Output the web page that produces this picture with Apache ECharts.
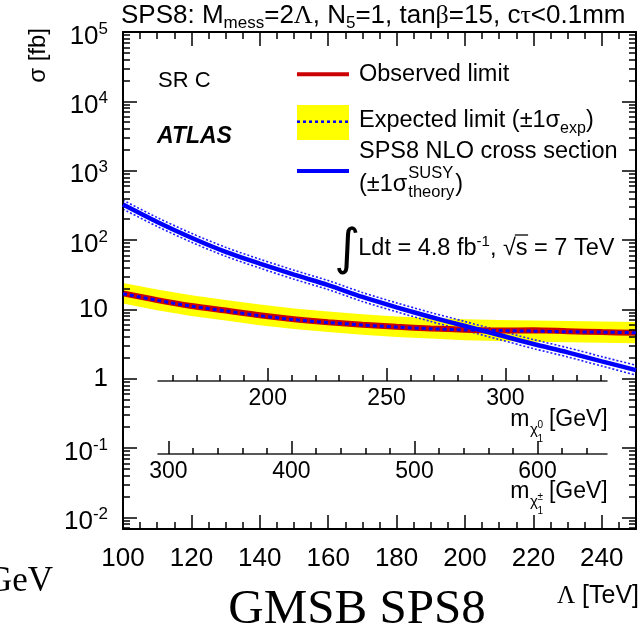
<!DOCTYPE html>
<html>
<head>
<meta charset="utf-8">
<script src="https://cdn.jsdelivr.net/npm/echarts@6/dist/echarts.min.js"></script>
<style>
  html, body { margin: 0; padding: 0; background: #fff; }
  #chart { width: 644px; height: 636px; }
</style>
</head>
<body>
<div id="chart"></div>
<script>
// Λ scan points [TeV]
const lambda = [100, 110, 120, 130, 140, 150, 160, 170, 180, 190, 200, 210, 220, 230, 240, 250];
// observed / expected 95% CL upper limits on σ [fb]
const observed = [17.0, 13.6, 11.2, 9.6, 8.2, 7.2, 6.5, 6.0, 5.6, 5.3, 5.1, 4.95, 5.0, 4.85, 4.7, 4.6];
const expected = [16.8, 13.5, 11.1, 9.5, 8.1, 7.1, 6.45, 5.95, 5.55, 5.25, 5.05, 4.95, 4.85, 4.75, 4.7, 4.6];
const expectedUp = [24.0, 19.3, 16.0, 13.7, 11.8, 10.3, 9.3, 8.5, 7.9, 7.5, 7.2, 7.0, 6.9, 6.8, 6.7, 6.6];
const expectedDown = [12.2, 9.7, 8.0, 6.9, 5.9, 5.2, 4.7, 4.3, 4.0, 3.8, 3.6, 3.5, 3.4, 3.35, 3.3, 3.25];
// SPS8 NLO cross section with its ±1σ theory band [fb]
const theory = [324, 182, 108, 67.6, 45.7, 31.6, 22.4, 15.1, 10.7, 7.76, 5.75, 4.27, 3.16, 2.40, 1.78, 1.33];
const theoryUp = [376, 211, 125, 78.4, 53.0, 36.7, 26.0, 17.5, 12.4, 9.0, 6.67, 4.95, 3.67, 2.80, 2.08, 1.56];
const theoryDown = [279, 157, 93.1, 58.3, 39.4, 27.2, 19.3, 13.0, 9.22, 6.69, 4.96, 3.68, 2.72, 2.06, 1.52, 1.13];

// tick labels
const lambdaTicks = [100, 120, 140, 160, 180, 200, 220, 240];
const sigmaTicks = [0.01, 0.1, 1, 10, 100, 1000, 10000, 100000];
const neutralinoTicks = [200, 250, 300];
const charginoTicks = [300, 400, 500, 600];

// axis ranges
const lambdaRange = [100, 250];
const sigmaRange = [0.0068, 100000];
const neutralinoRange = [153.8, 342.8];
const charginoRange = [291.5, 656.5];

// minor tick positions
const lambdaMinor = [];
for (let v = 105; v < 250; v += 5) lambdaMinor.push(v);
const sigmaMinor = [];
for (let e = -3; e <= 4; e++) {
  for (let k = 2; k <= 9; k++) {
    const v = k * Math.pow(10, e);
    if (v >= sigmaRange[0] && v <= sigmaRange[1]) sigmaMinor.push(v);
  }
}
const neutralinoMinor = [];
for (let v = 160; v <= 340; v += 10) neutralinoMinor.push(v);
const charginoMinor = [];
for (let v = 320; v <= 640; v += 20) charginoMinor.push(v);

const SANS = '"Liberation Sans", Arial, Helvetica, sans-serif';
const SERIF = '"Liberation Serif", "Times New Roman", serif';

const measureCtx = document.createElement('canvas').getContext('2d');
function textWidth(text, size, family, weight, style) {
  measureCtx.font = (style || 'normal') + ' ' + (weight || 'normal') + ' ' + size + 'px ' + family;
  return measureCtx.measureText(text).width;
}

const tickStyle = { color: '#000', width: 1.5 };

function frameAxis(extra) {
  return Object.assign({
    type: 'value',
    gridIndex: 0,
    z: 5,
    splitLine: { show: false },
    axisLine: { show: false, onZero: false },
    axisLabel: { show: false },
    axisTick: { show: false }
  }, extra);
}

function ticks(values, length) {
  return { show: true, inside: true, length: length, customValues: values, lineStyle: tickStyle };
}

const frameLine = { show: true, onZero: false, lineStyle: { color: '#000', width: 2 } };
const innerLine = { show: true, onZero: false, lineStyle: { color: '#222', width: 1.5 } };

const xAxes = [
  frameAxis({ min: lambdaRange[0], max: lambdaRange[1], position: 'bottom', axisLine: frameLine,
    axisTick: ticks(lambdaTicks, 14),
    axisLabel: { show: true, customValues: lambdaTicks, fontSize: 26, fontFamily: SANS, color: '#000', margin: 17 } }),
  frameAxis({ min: lambdaRange[0], max: lambdaRange[1], position: 'bottom', axisTick: ticks(lambdaMinor, 7) }),
  frameAxis({ min: lambdaRange[0], max: lambdaRange[1], position: 'top', axisLine: frameLine, axisTick: ticks(lambdaTicks, 14) }),
  frameAxis({ min: lambdaRange[0], max: lambdaRange[1], position: 'top', axisTick: ticks(lambdaMinor, 7) }),
  // neutralino mass scale
  frameAxis({ gridIndex: 1, min: neutralinoRange[0], max: neutralinoRange[1], position: 'bottom', axisLine: innerLine,
    axisTick: ticks(neutralinoTicks, 13),
    axisLabel: { show: true, customValues: neutralinoTicks, fontSize: 23, fontFamily: SANS, color: '#000', margin: 6 } }),
  frameAxis({ gridIndex: 1, min: neutralinoRange[0], max: neutralinoRange[1], position: 'bottom', axisTick: ticks(neutralinoMinor, 6) }),
  // chargino mass scale
  frameAxis({ gridIndex: 2, min: charginoRange[0], max: charginoRange[1], position: 'bottom', axisLine: innerLine,
    axisTick: ticks(charginoTicks, 13),
    axisLabel: { show: true, customValues: charginoTicks, fontSize: 23, fontFamily: SANS, color: '#000', margin: 6 } }),
  frameAxis({ gridIndex: 2, min: charginoRange[0], max: charginoRange[1], position: 'bottom', axisTick: ticks(charginoMinor, 6) })
];

function sigmaLabel(v) {
  const e = Math.round(Math.log10(v));
  if (e === 0) return '{p|1}';
  if (e === 1) return '{p|10}';
  return '{b|10}{s|' + e + '}';
}

const yAxes = [
  frameAxis({ type: 'log', logBase: 10, min: sigmaRange[0], max: sigmaRange[1], position: 'left', axisLine: frameLine,
    axisTick: ticks(sigmaTicks, 14),
    axisLabel: {
      show: true, customValues: sigmaTicks, margin: 15, formatter: sigmaLabel,
      rich: {
        p: { fontSize: 26, fontFamily: SANS, color: '#000' },
        b: { fontSize: 26, fontFamily: SANS, color: '#000', lineHeight: 26, padding: [9, 0, 0, 0] },
        s: { fontSize: 17, fontFamily: SANS, color: '#000', lineHeight: 17, padding: [6, 0, 12, 0] }
      }
    } }),
  frameAxis({ type: 'log', logBase: 10, min: sigmaRange[0], max: sigmaRange[1], position: 'left', axisTick: ticks(sigmaMinor, 7) }),
  frameAxis({ type: 'log', logBase: 10, min: sigmaRange[0], max: sigmaRange[1], position: 'right', axisLine: frameLine, axisTick: ticks(sigmaTicks, 14) }),
  frameAxis({ type: 'log', logBase: 10, min: sigmaRange[0], max: sigmaRange[1], position: 'right', axisTick: ticks(sigmaMinor, 7) }),
  { type: 'value', gridIndex: 1, show: false, min: 0, max: 1 },
  { type: 'value', gridIndex: 2, show: false, min: 0, max: 1 }
];

function pairs(ys) { return lambda.map((x, i) => [x, ys[i]]); }

// ±1σ expected band as a filled polygon in data coordinates
const bandSeries = {
  type: 'custom',
  xAxisIndex: 0, yAxisIndex: 0,
  clip: true,
  z: 1,
  data: pairs(expected),
  renderItem: function (params, api) {
    if (params.dataIndex !== 0) return null;
    const pts = [];
    for (let i = 0; i < lambda.length; i++) pts.push(api.coord([lambda[i], expectedUp[i]]));
    for (let i = lambda.length - 1; i >= 0; i--) pts.push(api.coord([lambda[i], expectedDown[i]]));
    return { type: 'polygon', shape: { points: pts }, style: { fill: '#ffff00', stroke: null } };
  }
};

function lineSeries(name, ys, color, width, type, z) {
  return {
    name: name, type: 'line', xAxisIndex: 0, yAxisIndex: 0,
    data: pairs(ys), showSymbol: false, smooth: 0.3, clip: true, z: z,
    lineStyle: { color: color, width: width, type: type }
  };
}

// legend, labels and annotations
const g = [];
function addText(x, y, text, size, opts) {
  opts = opts || {};
  g.push({
    type: 'text', x: x, y: y, rotation: opts.rotation || 0, z: 20,
    style: Object.assign({
      text: text, fontSize: size, fontFamily: opts.family || SANS,
      fontWeight: opts.weight || 'normal', fontStyle: opts.style || 'normal',
      fill: '#000', align: opts.align || 'left', verticalAlign: opts.valign || 'middle'
    }, opts.rich ? { rich: opts.rich } : {})
  });
}
function addLine(x1, y1, x2, y2, color, width, dash) {
  g.push({ type: 'line', z: 20, shape: { x1: x1, y1: y1, x2: x2, y2: y2 },
    style: { stroke: color, lineWidth: width, lineDash: dash || null } });
}

// header
addText(121, 16, 'SPS8: M{s|mess}=2{g|Λ}, N{s|5}=1, tan{g|β}=15, c{g|τ}<0.1mm', 26, {
  rich: {
    s: { fontSize: 17, fontFamily: SANS, padding: [14, 0, 0, 0] },
    g: { fontSize: 26, fontFamily: SERIF }
  }
});
// y title
addText(38, 28, 'σ [fb]', 24, { rotation: Math.PI / 2, align: 'right' });
addText(158, 81, 'SR C', 22);
addText(157, 137, 'ATLAS', 23, { weight: 'bold', style: 'italic' });

// legend
const legX0 = 297, legX1 = 349, legText = 359, LF = 23.5;
addLine(legX0, 74.3, legX1, 74.3, '#cc0000', 4);
addText(legText, 75, 'Observed limit', LF);
g.push({ type: 'rect', z: 19, shape: { x: legX0, y: 105, width: legX1 - legX0, height: 35 }, style: { fill: '#ffff00' } });
addLine(legX0, 121.7, legX1, 121.7, '#0000ff', 2.5, [3, 3]);
addText(legText, 121, 'Expected limit (±1σ{s|exp})', LF, {
  rich: { s: { fontSize: 16, fontFamily: SANS, padding: [16, 0, 0, 0] } }
});
addText(legText, 152, 'SPS8 NLO cross section', LF);
addLine(legX0, 171, legX1, 171, '#0000ff', 4);
const wOpen = textWidth('(±1σ', LF, SANS);
addText(legText, 185, '(±1σ', LF);
const supX = legText + wOpen + 1;
addText(supX, 173.5, 'SUSY', 16.5);
addText(supX, 192, 'theory', 16.5);
const wStack = Math.max(textWidth('SUSY', 16.5, SANS), textWidth('theory', 16.5, SANS));
addText(supX + wStack + 1, 185, ')', LF);

// luminosity / energy
const lumiX = 358.3, lumiY = 248.5;
addText(lumiX + 2, 251, '∫', 50, { family: '"DejaVu Sans", sans-serif', align: 'right' });
addText(lumiX, lumiY, 'Ldt = 4.8 fb{s|-1}, √s = 7 TeV', LF, {
  rich: { s: { fontSize: 15, fontFamily: SANS, padding: [0, 0, 14, 0] } }
});
const sqrtStart = lumiX + textWidth('Ldt = 4.8 fb', LF, SANS) + textWidth('-1', 15, SANS) + textWidth(', √', LF, SANS);
addLine(sqrtStart - 1, 235, sqrtStart + textWidth('s', LF, SANS) + 0.5, 235, '#000', 1.3);

// inner axis titles
function massTitle(yMain, upper) {
  const right = 607.7;
  const gevLeft = right - textWidth('[GeV]', 23, SANS);
  const idxX = gevLeft - 11.5;
  const chiX = idxX - textWidth('χ', 15, SANS) + 0.5;
  const mX = chiX - textWidth('m', 23, SANS) - 0.5;
  addText(mX, yMain, 'm', 23);
  addText(chiX, yMain + 10, 'χ', 15);
  addText(idxX, yMain + 5, upper, 10);
  addText(idxX, yMain + 19, '1', 10);
  addText(right, yMain, '[GeV]', 23, { align: 'right' });
}
massTitle(420, '0');
massTitle(492, '±');

// page labels below the frame
addText(53, 582, 'GeV', 35, { family: SERIF, align: 'right' });
addText(357, 610, 'GMSB SPS8', 49, { family: SERIF, align: 'center' });
addText(639, 596, '{g|Λ} [TeV]', 25, { align: 'right', rich: { g: { fontSize: 25, fontFamily: SERIF } } });

const option = {
  animation: false,
  backgroundColor: '#fff',
  textStyle: { fontFamily: SANS },
  grid: [
    { left: 123, top: 32, width: 513, height: 497 },
    { left: 158, top: 371, width: 449, height: 10 },
    { left: 158, top: 444, width: 449, height: 10 }
  ],
  xAxis: xAxes,
  yAxis: yAxes,
  series: [
    bandSeries,
    lineSeries('theory +1σ', theoryUp, '#2020ff', 1.6, [2, 2], 3),
    lineSeries('theory -1σ', theoryDown, '#2020ff', 1.6, [2, 2], 3),
    lineSeries('Observed limit', observed, '#cc0000', 6, 'solid', 4),
    lineSeries('Expected limit', expected, '#0000ff', 3, [4, 3], 5),
    lineSeries('SPS8 NLO cross section', theory, '#0000ff', 4.5, 'solid', 6)
  ],
  graphic: { elements: g }
};

const chart = echarts.init(document.getElementById('chart'));
chart.setOption(option);
</script>
</body>
</html>
